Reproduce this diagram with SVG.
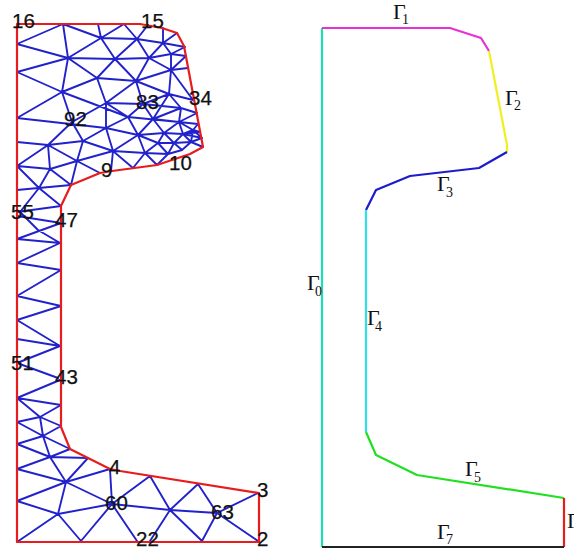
<svg xmlns="http://www.w3.org/2000/svg" width="574" height="549" viewBox="0 0 574 549">
<style>
.mesh{fill:none;stroke:#2222cc;stroke-width:1.9;stroke-linejoin:round;stroke-linecap:round}
.edge{fill:none;stroke-width:2.2;stroke-linejoin:round}
.out{stroke:#e81c1c}
.n{font:20.5px "Liberation Sans",Arial,sans-serif;fill:#111111;stroke:#111111;stroke-width:.25}
.g{font:22px "Liberation Serif","Times New Roman",serif;fill:#111111}
.s{font:14px "Liberation Serif","Times New Roman",serif;fill:#111111}
</style>
<rect width="574" height="549" fill="#ffffff"/>
<g id="mesh">
<path class="mesh" d="M17 44L63 24L68 58L17 44M17 72L68 58L101 38L63 24M98 24L101 38L124 24L137 39L148 25M101 38L137 39L115 59L101 38M137 39L149 58L115 59L68 58M137 39L163 43L149 58L171 54L163 43L163 28M163 43L177 33M163 43L185 47L171 54L186 56L171 70L171 54M149 58L171 70L188 68M136 81L171 70M136 81L149 58M115 59L136 81L97 78L115 59M68 58L97 78M68 58L62 92L17 72M62 92L97 78L106 103L136 81M62 92L128 117M17 118L62 92L72 122L106 103L106 128L128 117L106 103L143 104L136 81M143 104L128 117M143 104L153 119M143 104L169 94L136 81M169 94L153 119M169 94L171 70M169 94L193 100M171 70L193 100M169 94L181 108L143 104M181 108L197 113M181 108L179 122L153 119L181 108M128 117L179 122L198 124M179 122L197 113M128 117L138 135L153 119L164 133L138 135L106 128L17 118M48 145L72 122L83 141L106 128M164 133L179 122L183 134L164 133M183 134L193 130L198 124M179 122L193 130L200 132M183 134L200 132M183 134L202 138M183 134L191 142L193 130L202 138L191 142L203 147M138 135L113 151M138 135L145 153M138 135L158 143L145 153M158 143L164 133L174 143L158 143L168 154L145 153M174 143L183 134M174 143L191 142M174 143L168 154L182 150L174 143M182 150L191 142M168 154L157 165L145 153L133 168L113 151L145 153M113 151L111 171M113 151L83 141L77 161L100 173M113 151L77 161L48 145L50 169L77 161L71 185L50 169L17 166L48 145L17 142M48 145L83 141M106 128L113 151M17 166L39 188L50 169M17 190L71 185M39 188L61 206L17 212M39 188L20 212L38 230L60 243M17 216L61 223L17 239L60 243L17 263L61 270L17 296L61 306L17 320L60 346L17 339M60 346L17 363L58 378M17 398L60 380M17 398L61 405L40 417L17 398M40 417L17 422L43 436L61 426L40 417L43 436L17 444L50 457L43 436L70 449L50 457L88 458L66 482L110 469M50 457L66 482L17 469L50 457M17 501L66 482L58 514L17 501M66 482L112 504L58 514L17 542M58 514L81 541L112 504L110 469M112 504L137 541M112 504L150 476L170 510L112 504M170 510L150 541M170 510L198 484L217 513L170 510L202 541L217 513L258 493M217 513L258 541"/>
</g>
<g id="outline">
<path class="edge out" d="M17 24L140 24L162 28L177 33L184 46L203 147L190 154L157 165L112 171L100 173L71 185L61 206L61 427L70 449L110 469L120 471L259 493L259 542L17 542Z"/>
</g>
<g id="boundary">
<path class="edge" stroke="#20dcb4" d="M322 547L322 28"/>
<path class="edge" stroke="#e830d8" d="M322 28L450 28L481 38L489 51"/>
<path class="edge" stroke="#f0f020" d="M489 51L507 145L507 152"/>
<path class="edge" stroke="#1c1ccc" d="M507 152L479 168L410 176L376 190L366 210"/>
<path class="edge" stroke="#30e0e8" d="M366 210L366 432"/>
<path class="edge" stroke="#20e020" d="M366 432L376 455L417 475L564 498"/>
<path class="edge" stroke="#e81c1c" d="M564 498L564 547"/>
<path class="edge" stroke="#222222" d="M322 547L564 547"/>
</g>
<g id="node-numbers">
<text class="n" x="12" y="28">16</text>
<text class="n" x="141" y="28">15</text>
<text class="n" x="136" y="109">83</text>
<text class="n" x="189" y="105">34</text>
<text class="n" x="64" y="126">92</text>
<text class="n" x="101" y="177">9</text>
<text class="n" x="169" y="170">10</text>
<text class="n" x="11" y="219">55</text>
<text class="n" x="55" y="227">47</text>
<text class="n" x="11" y="370">51</text>
<text class="n" x="55" y="384">43</text>
<text class="n" x="109" y="474">4</text>
<text class="n" x="105" y="510">60</text>
<text class="n" x="257" y="497">3</text>
<text class="n" x="211" y="519">63</text>
<text class="n" x="136" y="546">22</text>
<text class="n" x="257" y="546">2</text>
</g>
<g id="boundary-labels">
<text class="g" x="393" y="19">Γ</text><text class="s" x="402" y="24">1</text>
<text class="g" x="505" y="105">Γ</text><text class="s" x="514" y="110">2</text>
<text class="g" x="437" y="191">Γ</text><text class="s" x="446" y="197">3</text>
<text class="g" x="367" y="325">Γ</text><text class="s" x="375" y="331">4</text>
<text class="g" x="465" y="476">Γ</text><text class="s" x="474" y="482">5</text>
<text class="g" x="437" y="539">Γ</text><text class="s" x="446" y="544">7</text>
<text class="g" x="307" y="290">Γ</text><text class="s" x="315" y="296">0</text>
<text class="g" x="567" y="528">Γ</text>
</g>
</svg>
